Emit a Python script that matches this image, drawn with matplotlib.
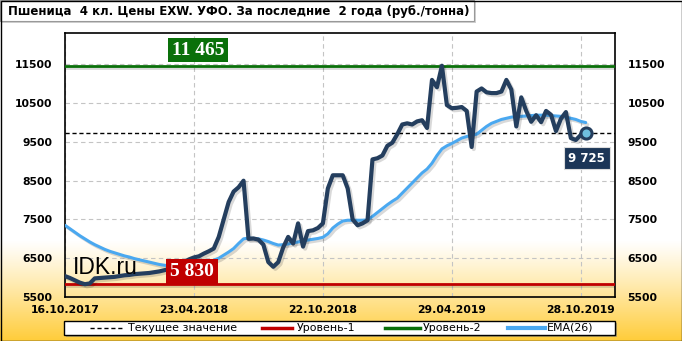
import numpy as np
import matplotlib
matplotlib.use("Agg")
import matplotlib.pyplot as plt
import matplotlib.patheffects as pe
from matplotlib.lines import Line2D
from matplotlib.patches import Rectangle

# ---------------- data ----------------
tick_labels = ["16.10.2017", "23.04.2018", "22.10.2018", "29.04.2019", "28.10.2019"]
tick_index = [0, 26, 52, 78, 104]

price = [6040, 5990, 5930, 5870, 5830, 5850, 5980, 5990, 6000, 6010,
         6020, 6040, 6060, 6070, 6090, 6100, 6110, 6120, 6140, 6160,
         6190, 6220, 6260, 6320, 6400, 6470, 6520, 6550, 6620, 6680,
         6750, 7050, 7500, 7950, 8220, 8330, 8500, 7000, 7010, 6980,
         6850, 6400, 6280, 6400, 6780, 7050, 6880, 7400, 6800, 7200,
         7220, 7280, 7400, 8300, 8640, 8640, 8640, 8300, 7500, 7350,
         7400, 7480, 9050, 9080, 9150, 9400, 9480, 9700, 9950, 9980,
         9950, 10030, 10060, 9860, 11100, 10910, 11465, 10450, 10370, 10380,
         10400, 10300, 9370, 10800, 10880, 10780, 10760, 10760, 10800, 11100,
         10850, 9900, 10650, 10300, 10020, 10190, 10010, 10300, 10200, 9780,
         10100, 10270, 9600, 9550, 9680, 9725]

ema26 = [7350, 7260, 7170, 7080, 7000, 6920, 6850, 6790, 6730, 6680,
         6640, 6600, 6560, 6530, 6490, 6460, 6430, 6400, 6370, 6340,
         6320, 6300, 6290, 6280, 6280, 6290, 6300, 6320, 6350, 6400,
         6450, 6500, 6580, 6660, 6750, 6880, 7000, 7020, 7010, 7000,
         6970, 6930, 6880, 6840, 6850, 6870, 6900, 6920, 6950, 6970,
         6990, 7010, 7040, 7130, 7280, 7380, 7460, 7480, 7480, 7480,
         7480, 7490, 7580, 7680, 7780, 7880, 7970, 8050, 8180, 8310,
         8440, 8570, 8700, 8800, 8950, 9150, 9320, 9400, 9460, 9530,
         9600, 9640, 9670, 9700, 9800, 9900, 9980, 10030, 10080, 10110,
         10140, 10150, 10160, 10170, 10180, 10190, 10190, 10190, 10180, 10170,
         10160, 10140, 10110, 10080, 10030, 10000]

level1 = 5830
level2 = 11465
current = 9725
yticks = [5500, 6500, 7500, 8500, 9500, 10500, 11500]

title = "Пшеница  4 кл. Цены EXW. УФО. За последние  2 года (руб./тонна)"
legend_labels = ["Текущее значение", "Уровень-1", "Уровень-2", "EMA(26)"]

# ---------------- figure ----------------
W, H = 682, 341
fig = plt.figure(figsize=(W / 100, H / 100), dpi=100)

navy = "#243e5e"
ema_col = "#4aa8f0"
red = "#c00000"
green = "#0a700a"

# background gradient
bg = fig.add_axes([0, 0, 1, 1], zorder=0)
ypx = np.arange(H)
t = np.clip((ypx - 240) / (H - 240), 0, 1) ** 1.1
white = np.array([1.0, 1.0, 1.0])
gold = np.array([1.0, 0.80, 0.22])
grad = white[None, :] * (1 - t[:, None]) + gold[None, :] * t[:, None]
grad = np.repeat(grad[:, None, :], 4, axis=1)
bg.imshow(grad, aspect="auto", extent=[0, W, H, 0], origin="upper")
bg.set_xlim(0, W)
bg.set_ylim(H, 0)
bg.axis("off")

# title box
bg.add_patch(Rectangle((2, 2), 474, 21, facecolor="#b0b0b0",
                       edgecolor="none", alpha=0.6))
bg.add_patch(Rectangle((0, 0), 474, 21, facecolor="white",
                       edgecolor="#999999", lw=0.8))
bg.text(8, 11, title, fontsize=8.45, fontweight="bold",
        family="DejaVu Sans", va="center", ha="left")

# legend (drawn in pixel layout of the figure)
bg.add_patch(Rectangle((66, 323), 551, 14, facecolor="#777777",
                       edgecolor="none", alpha=0.5, zorder=2))
bg.add_patch(Rectangle((64, 321), 551, 14, facecolor="white",
                       edgecolor="black", lw=1.0, zorder=3))
leg_handles = [((90, 122), dict(color="black", lw=1.0, linestyle=(0, (3, 2)))),
               ((262, 292), dict(color=red, lw=2.5)),
               ((385, 420), dict(color=green, lw=2.5)),
               ((508, 545), dict(color=ema_col, lw=3))]
leg_text_x = [128, 297, 423, 547]
for (hx, style), tx, lab in zip(leg_handles, leg_text_x, legend_labels):
    bg.add_line(Line2D(list(hx), [328, 328], zorder=4, **style))
    bg.text(tx, 328, lab, fontsize=7.9, va="center", ha="left", zorder=4)

# figure border
bg.add_patch(Rectangle((0.5, 0.5), W - 1, H - 1, facecolor="none", edgecolor="black",
                       lw=1.0, zorder=5))

# main axes
ax = fig.add_axes([65 / W, 1 - 297 / H, 550 / W, 264 / H], zorder=1)
ax.patch.set_alpha(0)
x = np.arange(len(price))
ax.set_xlim(0, 110.9)
ax.set_ylim(5500, 12310)

ax.set_yticks(yticks)
ax.set_xticks(tick_index)
ax.set_xticklabels(tick_labels)
ax.grid(True, color="#c4c4c4", linestyle=(0, (4, 3)), lw=0.8)
ax.set_axisbelow(True)
for s in ax.spines.values():
    s.set_color("black")
    s.set_linewidth(1.2)
ax.tick_params(axis="both", length=0, labelsize=7.8)
ax.tick_params(axis="y", labelleft=True, labelright=True, pad=9)
ax.tick_params(axis="x", pad=6)
for tk in ax.yaxis.get_major_ticks() + ax.xaxis.get_major_ticks():
    tk.label1.set_fontweight("bold")
    tk.label2.set_fontweight("bold")

shadow = [pe.SimpleLineShadow(offset=(1.5, -1.5), shadow_color="#000000", alpha=0.15),
          pe.Normal()]

ax.axhline(level1, color=red, lw=2.0, path_effects=shadow, zorder=3)
ax.axhline(level2, color=green, lw=2.0, path_effects=shadow, zorder=3)
ax.axhline(current, color="black", lw=1.0, linestyle=(0, (3, 2)), zorder=3)

ax.plot(x, ema26, color=ema_col, lw=2.2, solid_joinstyle="round",
        solid_capstyle="round", path_effects=shadow, zorder=4)
ax.plot(x, price, color=navy, lw=3.0, solid_joinstyle="round",
        solid_capstyle="round", path_effects=shadow, zorder=5)
ax.plot([x[-1]], [price[-1]], marker="o", ms=8, mfc="#6fc0e0", mec=navy,
        mew=2.2, zorder=6)

# labels
ax.text(0.242, 11870, "11 465", transform=ax.get_yaxis_transform(),
        ha="center", va="center", color="white", fontsize=14, fontweight="bold",
        family="Liberation Serif", zorder=7,
        bbox=dict(boxstyle="square,pad=0.2", facecolor=green, edgecolor="none"))
ax.text(0.231, 6165, "5 830", transform=ax.get_yaxis_transform(),
        ha="center", va="center", color="white", fontsize=14, fontweight="bold",
        family="Liberation Serif", zorder=7,
        bbox=dict(boxstyle="square,pad=0.2", facecolor=red, edgecolor="none"))
ax.text(105.2, 9080, "9 725", ha="center", va="center", color="white",
        fontsize=8.5, fontweight="bold", zorder=7,
        bbox=dict(boxstyle="square,pad=0.4", facecolor="#1c3657",
                  edgecolor="#dddddd", lw=0.8))
ax.text(8 / 550, 6270, "IDK.ru", transform=ax.get_yaxis_transform(),
        ha="left", va="center", color="black", fontsize=16.5,
        family="Liberation Sans", zorder=6)

fig.savefig("out.png", dpi=100)
